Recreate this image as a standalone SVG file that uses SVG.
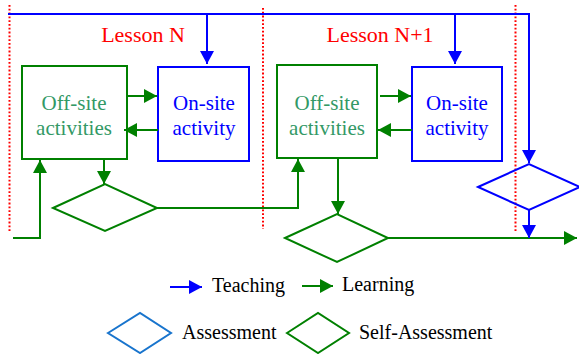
<svg xmlns="http://www.w3.org/2000/svg" width="579" height="354" viewBox="0 0 579 354">
<style>
.g{stroke:#008000;stroke-width:2;fill:none}
.b{stroke:#0000ff;stroke-width:2;fill:none}
.dot{stroke:#ff0000;stroke-width:2;stroke-dasharray:1.8 2;fill:none}
.t{font-family:'Liberation Serif',serif;font-size:21px;text-anchor:middle}
.lt{font-family:'Liberation Serif',serif;font-size:22px;fill:#ff0000;text-anchor:middle}
.lg{font-family:'Liberation Serif',serif;font-size:20px;fill:#000}
</style>
<defs>
<marker id="ag" markerUnits="userSpaceOnUse" markerWidth="14" markerHeight="14" refX="13" refY="7" orient="auto" viewBox="0 0 14 14"><path d="M0,0 L13,7 L0,14 z" fill="#008000"/></marker>
<marker id="ab" markerUnits="userSpaceOnUse" markerWidth="14" markerHeight="14" refX="13" refY="7" orient="auto" viewBox="0 0 14 14"><path d="M0,0 L13,7 L0,14 z" fill="#0000ff"/></marker>
</defs>
<g id="separators">
<line class="dot" x1="9.5" y1="5" x2="9.5" y2="231"/>
<line class="dot" x1="263" y1="8" x2="263" y2="229"/>
<line class="dot" x1="515.5" y1="5" x2="515.5" y2="232"/>
</g>
<g id="labels">
<text class="lt" x="143" y="42">Lesson N</text>
<text class="lt" x="380" y="42">Lesson N+1</text>
</g>
<g id="offsite1">
<rect class="g" x="22" y="66" width="105" height="93"/>
<text class="t" fill="#339966" x="74" y="110">Off-site</text>
<text class="t" fill="#339966" x="74" y="135">activities</text>
</g>
<g id="onsite1">
<rect class="b" x="158" y="67" width="91" height="94"/>
<text class="t" fill="#0000ff" x="204" y="110">On-site</text>
<text class="t" fill="#0000ff" x="204" y="135">activity</text>
</g>
<g id="offsite2">
<rect class="g" x="277" y="65" width="100" height="93"/>
<text class="t" fill="#339966" x="327" y="110">Off-site</text>
<text class="t" fill="#339966" x="327" y="135">activities</text>
</g>
<g id="onsite2">
<rect class="b" x="412" y="67" width="90" height="94"/>
<text class="t" fill="#0000ff" x="457" y="110">On-site</text>
<text class="t" fill="#0000ff" x="457" y="135">activity</text>
</g>
<g id="selfassess1"><polygon class="g" points="53,208 105,184 157,208 105,231"/></g>
<g id="selfassess2"><polygon class="g" points="285,238 337,214 388,238 337,262"/></g>
<g id="assess"><polygon class="b" points="478,187 529,164 580,187 529,210"/></g>
<g id="connectors">
<polyline class="b" points="8,14 529,14 529,163" marker-end="url(#ab)"/>
<line class="b" x1="207" y1="14" x2="207" y2="64" marker-end="url(#ab)"/>
<line class="b" x1="455" y1="14" x2="455" y2="64" marker-end="url(#ab)"/>
<line class="g" x1="127" y1="96" x2="157" y2="96" marker-end="url(#ag)"/>
<line class="g" x1="158" y1="130" x2="124" y2="130" marker-end="url(#ag)"/>
<line class="g" x1="380" y1="96" x2="411" y2="96" marker-end="url(#ag)"/>
<line class="g" x1="412" y1="130" x2="378" y2="130" marker-end="url(#ag)"/>
<polyline class="g" points="13,238 40,238 40,160" marker-end="url(#ag)"/>
<line class="g" x1="104" y1="159" x2="104" y2="184" marker-end="url(#ag)"/>
<polyline class="g" points="157,208 298,208 298,159" marker-end="url(#ag)"/>
<line class="g" x1="338" y1="158" x2="338" y2="214" marker-end="url(#ag)"/>
<line class="g" x1="388" y1="238" x2="577" y2="238" marker-end="url(#ag)"/>
<line class="b" x1="529" y1="210" x2="529" y2="238" marker-end="url(#ab)"/>
</g>
<g id="legend">
<line class="b" x1="170" y1="287" x2="202" y2="287" stroke-width="3" marker-end="url(#ab)"/>
<text class="lg" x="212" y="292">Teaching</text>
<line class="g" x1="302" y1="286" x2="333" y2="286" stroke-width="3" marker-end="url(#ag)"/>
<text class="lg" x="342" y="291">Learning</text>
<polygon points="108,333 140,313 171,333 140,353" fill="none" stroke="#1874cd" stroke-width="2"/>
<text class="lg" x="182" y="339">Assessment</text>
<polygon class="g" points="287,333 318,313 349,333 318,353"/>
<text class="lg" x="359" y="339">Self-Assessment</text>
</g>
</svg>
